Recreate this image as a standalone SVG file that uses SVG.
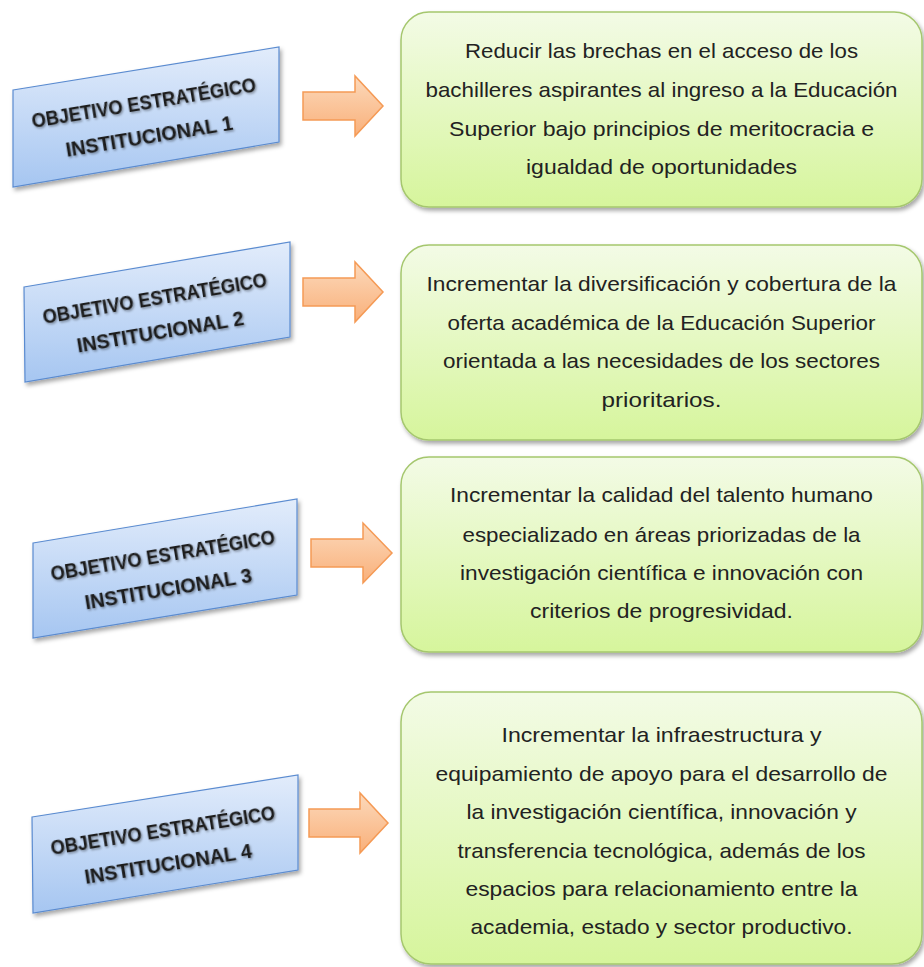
<svg xmlns="http://www.w3.org/2000/svg" width="924" height="967" viewBox="0 0 924 967">
<defs>
<linearGradient id="gBlue" x1="0" y1="0" x2="0" y2="1"><stop offset="0" stop-color="#e2ecfb"/><stop offset="1" stop-color="#a6c6f1"/></linearGradient>
<linearGradient id="gGreen" x1="0" y1="0" x2="0" y2="1"><stop offset="0" stop-color="#f3fbe6"/><stop offset="1" stop-color="#d6f59c"/></linearGradient>
<linearGradient id="gOrange" x1="0" y1="0" x2="0" y2="1"><stop offset="0" stop-color="#fcd9bb"/><stop offset="1" stop-color="#f9b07a"/></linearGradient>
<filter id="sh" x="-10%" y="-10%" width="130%" height="140%"><feDropShadow dx="2" dy="3" stdDeviation="2" flood-color="#000" flood-opacity="0.35"/></filter>
<filter id="tsh" x="-10%" y="-30%" width="120%" height="160%"><feDropShadow dx="1" dy="1.5" stdDeviation="1.2" flood-color="#000" flood-opacity="0.4"/></filter>
</defs>
<style>
.blue{fill:url(#gBlue);stroke:#5a8bd0;stroke-width:1.2;filter:url(#sh)}
.green{fill:url(#gGreen);stroke:#a5c76e;stroke-width:1.5;filter:url(#sh)}
.arrow{fill:url(#gOrange);stroke:#f59a55;stroke-width:1.5}
.bt{font-family:"Liberation Sans",Arial,sans-serif;font-weight:bold;font-size:21px;fill:#1a1a1a;text-anchor:middle;filter:url(#tsh)}
.gt{font-family:"Liberation Sans",Arial,sans-serif;font-size:21px;fill:#222;text-anchor:middle}
</style>

<g id="obj1">
<polygon class="blue" points="13,90 279,47 279,142 13,187"/>
<g transform="translate(146,116.5) rotate(-9.3)">
<text class="bt" x="0" y="-7" textLength="227" lengthAdjust="spacingAndGlyphs">OBJETIVO  ESTRATÉGICO</text>
<text class="bt" x="0" y="27" textLength="169" lengthAdjust="spacingAndGlyphs">INSTITUCIONAL 1</text>
</g>
</g>
<g id="obj2">
<polygon class="blue" points="24,287 290,242 290,337 25,382"/>
<g transform="translate(157,312) rotate(-9.5)">
<text class="bt" x="0" y="-7" textLength="227" lengthAdjust="spacingAndGlyphs">OBJETIVO  ESTRATÉGICO</text>
<text class="bt" x="0" y="27" textLength="169" lengthAdjust="spacingAndGlyphs">INSTITUCIONAL 2</text>
</g>
</g>
<g id="obj3">
<polygon class="blue" points="33,543 297,499 297,595 33,638"/>
<g transform="translate(165,569) rotate(-9.4)">
<text class="bt" x="0" y="-7" textLength="227" lengthAdjust="spacingAndGlyphs">OBJETIVO  ESTRATÉGICO</text>
<text class="bt" x="0" y="27" textLength="169" lengthAdjust="spacingAndGlyphs">INSTITUCIONAL 3</text>
</g>
</g>
<g id="obj4">
<polygon class="blue" points="32,817 298,775 298,870 33,913"/>
<g transform="translate(165,844) rotate(-9.0)">
<text class="bt" x="0" y="-7" textLength="227" lengthAdjust="spacingAndGlyphs">OBJETIVO  ESTRATÉGICO</text>
<text class="bt" x="0" y="27" textLength="169" lengthAdjust="spacingAndGlyphs">INSTITUCIONAL 4</text>
</g>
</g>

<g id="connectors">
<polygon class="arrow" points="303,92 355,92 355,76 383,106 355,136 355,120 303,120"/>
<polygon class="arrow" points="303,278 355,278 355,262 383,292 355,322 355,306 303,306"/>
<polygon class="arrow" points="311,539 363,539 363,523 392,553 363,583 363,567 311,567"/>
<polygon class="arrow" points="309,809 360,809 360,793 388,823 360,853 360,837 309,837"/>
</g>

<g id="goal1">
<rect class="green" x="401" y="12" width="521" height="195" rx="28" ry="28"/>
<text class="gt" x="661.5" y="58" textLength="393" lengthAdjust="spacingAndGlyphs">Reducir las brechas en el acceso de los</text>
<text class="gt" x="661.5" y="97" textLength="472" lengthAdjust="spacingAndGlyphs">bachilleres aspirantes al ingreso a la Educación</text>
<text class="gt" x="661.5" y="136" textLength="425" lengthAdjust="spacingAndGlyphs">Superior bajo principios de meritocracia e</text>
<text class="gt" x="661.5" y="174" textLength="271" lengthAdjust="spacingAndGlyphs">igualdad de oportunidades</text>
</g>
<g id="goal2">
<rect class="green" x="401" y="245" width="521" height="195" rx="28" ry="28"/>
<text class="gt" x="661.5" y="291" textLength="470" lengthAdjust="spacingAndGlyphs">Incrementar la diversificación y cobertura de la</text>
<text class="gt" x="661.5" y="330" textLength="428" lengthAdjust="spacingAndGlyphs">oferta académica de la Educación Superior</text>
<text class="gt" x="661.5" y="368" textLength="437" lengthAdjust="spacingAndGlyphs">orientada a las necesidades de los sectores</text>
<text class="gt" x="661.5" y="407" textLength="120" lengthAdjust="spacingAndGlyphs">prioritarios.</text>
</g>
<g id="goal3">
<rect class="green" x="401" y="457" width="521" height="195" rx="28" ry="28"/>
<text class="gt" x="661.5" y="502" textLength="423" lengthAdjust="spacingAndGlyphs">Incrementar la calidad del talento humano</text>
<text class="gt" x="661.5" y="542" textLength="398" lengthAdjust="spacingAndGlyphs">especializado en áreas priorizadas de la</text>
<text class="gt" x="661.5" y="580" textLength="403" lengthAdjust="spacingAndGlyphs">investigación científica e innovación con</text>
<text class="gt" x="661.5" y="618" textLength="263" lengthAdjust="spacingAndGlyphs">criterios de progresividad.</text>
</g>
<g id="goal4">
<rect class="green" x="401" y="692" width="521" height="272" rx="30" ry="30"/>
<text class="gt" x="661.5" y="742" textLength="320" lengthAdjust="spacingAndGlyphs">Incrementar la infraestructura y</text>
<text class="gt" x="661.5" y="781" textLength="452" lengthAdjust="spacingAndGlyphs">equipamiento de apoyo para el desarrollo de</text>
<text class="gt" x="661.5" y="819" textLength="390" lengthAdjust="spacingAndGlyphs">la investigación científica, innovación y</text>
<text class="gt" x="661.5" y="858" textLength="408" lengthAdjust="spacingAndGlyphs">transferencia tecnológica, además de los</text>
<text class="gt" x="661.5" y="896" textLength="392" lengthAdjust="spacingAndGlyphs">espacios para relacionamiento entre la</text>
<text class="gt" x="661.5" y="934" textLength="382" lengthAdjust="spacingAndGlyphs">academia, estado y sector productivo.</text>
</g>
</svg>
